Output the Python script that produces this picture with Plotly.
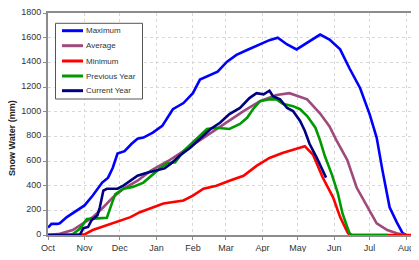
import plotly.graph_objects as go

# Days since Oct 1 for each read point, and snow water equivalent (mm)
max_day = [0, 3, 8, 10, 16, 25, 31, 38, 46, 51, 55, 59, 65, 71, 76, 81, 89, 97, 102, 106, 115, 123, 129, 138, 144, 152, 160, 169, 180, 188, 195, 203, 211, 222, 231, 239, 248, 256, 265, 273, 279, 284, 290, 296, 301, 304]
max_val = [60, 90, 90, 95, 145, 200, 240, 320, 425, 465, 545, 660, 680, 740, 780, 790, 830, 885, 965, 1020, 1070, 1150, 1260, 1300, 1325, 1405, 1460, 1500, 1550, 1580, 1600, 1545, 1505, 1570, 1625, 1585, 1505, 1350, 1190, 980, 790, 520, 225, 105, 15, 0]

avg_day = [0, 10, 21, 30, 38, 47, 55, 64, 76, 87, 102, 115, 132, 149, 166, 180, 194, 205, 220, 231, 239, 245, 254, 262, 271, 279, 288, 296, 303]
avg_val = [0, 10, 40, 95, 145, 225, 305, 375, 440, 520, 600, 680, 790, 900, 1005, 1085, 1135, 1150, 1100, 985, 880, 765, 610, 385, 225, 95, 40, 15, 0]

min_day = [0, 27, 31, 38, 50, 61, 70, 78, 87, 98, 115, 123, 132, 143, 154, 166, 177, 188, 199, 211, 218, 225, 233, 242, 248, 254, 256, 322]
min_val = [0, 0, 5, 40, 80, 120, 145, 185, 215, 255, 280, 320, 375, 400, 440, 480, 560, 625, 665, 700, 720, 650, 470, 305, 145, 25, 0, 0]

prev_day = [0, 20, 27, 33, 42, 50, 54, 57, 64, 72, 81, 89, 95, 101, 108, 115, 123, 131, 135, 143, 154, 163, 169, 174, 180, 188, 194, 199, 208, 214, 220, 227, 231, 235, 241, 246, 250, 254, 256, 258, 288]
prev_val = [0, 0, 50, 130, 135, 140, 250, 330, 375, 390, 425, 490, 540, 580, 590, 680, 750, 820, 860, 870, 860, 900, 950, 1020, 1085, 1100, 1100, 1065, 1045, 1020, 965, 870, 765, 640, 490, 340, 175, 65, 15, 0, 0]

cur_day = [0, 27, 30, 34, 37, 42, 44, 47, 50, 59, 64, 70, 76, 84, 93, 99, 104, 112, 121, 129, 138, 146, 154, 163, 171, 177, 183, 188, 191, 197, 203, 208, 214, 218, 222, 228, 233, 236]
cur_val = [0, 0, 55, 65, 120, 160, 225, 360, 375, 375, 400, 440, 480, 505, 525, 540, 575, 645, 710, 780, 860, 910, 980, 1030, 1110, 1150, 1140, 1170, 1125, 1100, 1030, 1005, 925, 845, 740, 630, 520, 465]

month_days = [0, 31, 61, 92, 123, 151, 182, 212, 243, 273, 304]
month_labels = ["Oct", "Nov", "Dec", "Jan", "Feb", "Mar", "Apr", "May", "Jun", "Jul", "Aug"]

y_ticks = list(range(0, 1801, 200))
y_title = "Snow Water (mm)"

series_names = ["Maximum", "Average", "Minimum", "Previous Year", "Current Year"]
series_x = [max_day, avg_day, min_day, prev_day, cur_day]
series_y = [max_val, avg_val, min_val, prev_val, cur_val]
series_colors = ["#0000FF", "#9E4A7C", "#FF0000", "#009900", "#000080"]

fig = go.Figure()
for name, xs, ys, color in zip(series_names, series_x, series_y, series_colors):
    fig.add_trace(go.Scatter(x=xs, y=ys, mode="lines", name=name,
                             line=dict(color=color, width=2.6)))

# Page body has an 8px margin: figure is shifted, so margins compensate.
W, H = 411, 244
ML, MR, MT, MB = 40, 0, 5, 17
plot_w = W - ML - MR
plot_h = H - MT - MB
x0px, y0px = 8 + ML, 8 + MT  # absolute page position of plot area top-left


def px_x(px):
    return (px - x0px) / plot_w


def px_y(py):
    return 1 - (py - y0px) / plot_h


# Compact Excel-style legend built from layout shapes/annotations
shapes = [dict(type="rect", xref="paper", yref="paper",
               x0=px_x(55.5), x1=px_x(142.5), y0=px_y(99), y1=px_y(23.3),
               line=dict(color="#555555", width=1), fillcolor="white", layer="above")]
annotations = []
legend_rows = [30.7, 45.7, 61, 76, 90.7]
for name, color, ry in zip(series_names, series_colors, legend_rows):
    shapes.append(dict(type="line", xref="paper", yref="paper",
                       x0=px_x(62), x1=px_x(83), y0=px_y(ry), y1=px_y(ry),
                       line=dict(color=color, width=3), layer="above"))
    annotations.append(dict(xref="paper", yref="paper", x=px_x(84), y=px_y(ry),
                            xanchor="left", yanchor="middle", text=name,
                            showarrow=False,
                            font=dict(size=8, color="#333333")))

# Y-axis title, placed like the original (slightly below the plot centre)
annotations.append(dict(xref="paper", yref="paper", x=px_x(12), y=px_y(138),
                        xanchor="center", yanchor="middle", textangle=-90,
                        text="<b>" + y_title + "</b>", showarrow=False,
                        font=dict(size=9, color="#222222")))

font = "Arial, Liberation Sans, sans-serif"
fig.update_layout(
    width=W, height=H,
    margin=dict(l=ML, r=MR, t=MT, b=MB, autoexpand=False),
    paper_bgcolor="white", plot_bgcolor="white",
    font=dict(family=font, size=9, color="#333333"),
    showlegend=False,
    shapes=shapes, annotations=annotations,
)
fig.update_xaxes(
    range=[0, (W - ML - MR) / 1.178], tickmode="array", tickvals=month_days, ticktext=month_labels,
    showgrid=True, gridcolor="#d8d8d8", gridwidth=1, griddash="dot",
    showline=True, linecolor="#8c8c8c", linewidth=2, mirror=True,
    ticks="outside", ticklen=3, tickcolor="#8c8c8c", ticklabeloverflow="allow",
    tickfont=dict(size=9, color="#333333"), zeroline=False,
)
fig.update_yaxes(
    range=[0, 1800], tickmode="array", tickvals=y_ticks,
    showgrid=True, gridcolor="#d8d8d8", gridwidth=1, griddash="dot",
    showline=True, linecolor="#8c8c8c", linewidth=2, mirror=True,
    ticks="outside", ticklen=3, tickcolor="#8c8c8c", ticklabeloverflow="allow",
    ticklabelshift=-1,
    tickfont=dict(size=9, color="#333333"), zeroline=False,
)

fig.write_html("out.html")
